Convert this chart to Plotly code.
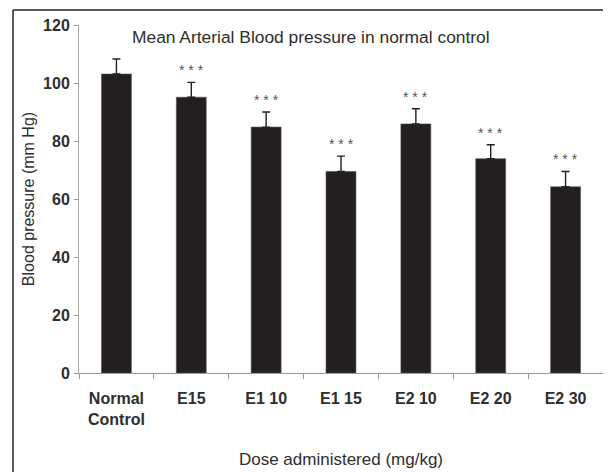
import plotly.graph_objects as go

categories = ["Normal<br>Control", "E15", "E1 10", "E1 15", "E2 10", "E2 20", "E2 30"]
means = [103.1, 95.1, 84.8, 69.5, 85.9, 73.9, 64.2]
sems = [5.2, 5.1, 5.2, 5.3, 5.2, 4.8, 5.3]
signif = ["", "***", "***", "***", "***", "***", "***"]
y_ticks = [0, 20, 40, 60, 80, 100, 120]

# page body adds an 8px offset; work in reference pixel coords minus 8
OFF = 8
W, H = 611 - OFF, 472 - OFF
L, R, T, B = 79 - OFF, 8, 25 - OFF, 472 - 373
pw, ph = W - L - R, H - T - B

def px_x(p):
    return (p - OFF - L) / pw

def px_y(p):
    return (H - B - (p - OFF)) / ph

fig = go.Figure()
fig.add_trace(go.Bar(
    x=categories, y=means,
    marker=dict(color="#231f20", line=dict(color="#555555", width=0.6)),
    width=0.4,
    error_y=dict(type="data", array=sems, arrayminus=[0] * len(sems), symmetric=False,
                 color="#222222", thickness=1.4, width=4),
    showlegend=False,
))

for c, m, s, t in zip(categories, means, sems, signif):
    if t:
        fig.add_annotation(x=c, y=m + s, text=" ".join(t), showarrow=False,
                           yanchor="bottom", yshift=2,
                           font=dict(family="Liberation Sans, Arial", size=14, color="#555555"))

fig.add_annotation(x=px_x(311), y=px_y(37), xref="paper", yref="paper",
                   text="Mean Arterial Blood pressure in normal control", showarrow=False,
                   xanchor="center", yanchor="middle",
                   font=dict(family="Liberation Sans, Arial", size=17.4, color="#2e2e2e"))

# outer frame (left and top edges)
fig.add_shape(type="line", xref="paper", yref="paper", x0=px_x(13), x1=px_x(13),
              y0=px_y(10), y1=px_y(490), line=dict(color="#222222", width=1.5))
fig.add_shape(type="line", xref="paper", yref="paper", x0=px_x(13), x1=px_x(630),
              y0=px_y(10), y1=px_y(10), line=dict(color="#222222", width=1.5))

fig.update_layout(
    width=W, height=H,
    margin=dict(l=L, r=R, t=T, b=B, autoexpand=False),
    paper_bgcolor="white", plot_bgcolor="white",
    bargap=0.6,
    font=dict(family="Liberation Sans, Arial", color="#2e2e2e"),
    xaxis=dict(
        type="category", showline=True, linecolor="#999999", linewidth=1,
        ticks="outside", tickson="boundaries", ticklen=5, tickcolor="#999999",
        ticklabelstandoff=11,
        tickfont=dict(size=16, weight="bold", color="#2e2e2e"),
        title=dict(text="Dose administered (mg/kg)", standoff=26,
                   font=dict(size=17, color="#2e2e2e")),
        showgrid=False, automargin=False,
    ),
    yaxis=dict(
        range=[0, 120], tickvals=y_ticks, showline=True, linecolor="#aaaaaa", linewidth=1,
        ticks="outside", ticklen=4, tickcolor="#999999",
        ticklabelstandoff=1,
        tickfont=dict(size=16, weight="bold", color="#2e2e2e"),
        title=dict(text="Blood pressure (mm Hg)", standoff=4,
                   font=dict(size=16, color="#2e2e2e")),
        showgrid=False, zeroline=False, automargin=False,
    ),
)

fig.write_html("out.html")
